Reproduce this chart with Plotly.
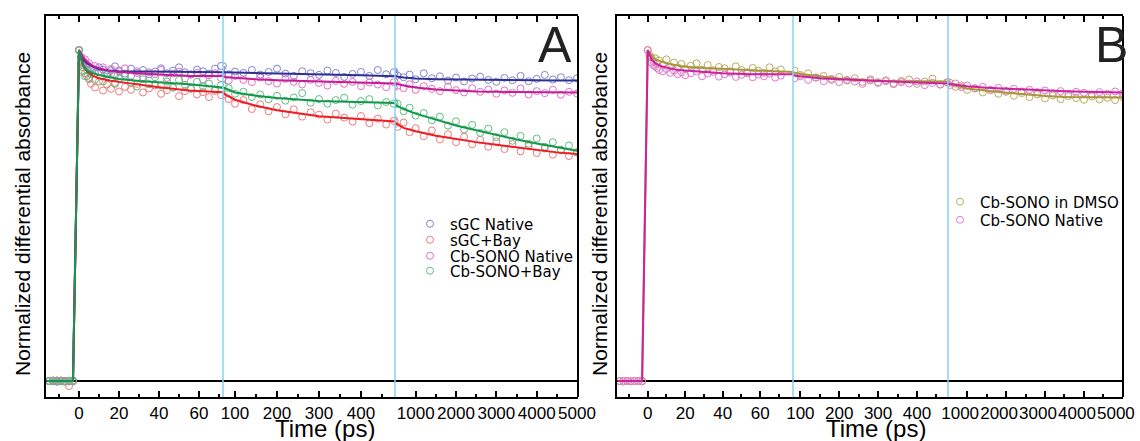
import plotly.graph_objects as go

# ---------------- data ----------------
TIME = [-15, -13, -11, -9, -7, -5, -3,
        0, 1, 2, 3, 4, 5, 6, 8, 10, 12, 14, 16, 18, 20, 23, 26, 29, 32, 35, 38, 41, 44, 47, 50, 53, 56, 59, 62, 65, 68, 71,
        85, 100, 120, 140, 160, 180, 200, 220, 240, 260, 280, 300, 320, 340, 360, 380, 400, 420, 440, 460, 478,
        550, 700, 850, 1000, 1200, 1400, 1600, 1800, 2000, 2200, 2400, 2600, 2800, 3000, 3200, 3400, 3600, 3800,
        4000, 4200, 4400, 4600, 4800, 5000]

SGC_NATIVE = [0.000, 0.002, -0.002, 0.001, 0.000, -0.001, 0.002,
              1.000, 0.978, 0.962, 0.958, 0.951, 0.949, 0.944, 0.930, 0.948, 0.941, 0.926, 0.939, 0.951, 0.936, 0.929,
              0.944, 0.931, 0.940, 0.927, 0.935, 0.945, 0.930, 0.938, 0.948, 0.933, 0.926, 0.941, 0.936, 0.929, 0.944, 0.952,
              0.927, 0.935, 0.931, 0.940, 0.926, 0.934, 0.944, 0.929, 0.922, 0.936, 0.930, 0.925, 0.938, 0.931, 0.919,
              0.928, 0.934, 0.922, 0.940, 0.927, 0.933,
              0.923, 0.918, 0.926, 0.912, 0.930, 0.915, 0.921, 0.908, 0.917, 0.905, 0.914, 0.920, 0.910, 0.904, 0.916,
              0.909, 0.922, 0.906, 0.913, 0.925, 0.911, 0.918, 0.909, 0.915]

SGC_BAY = [0.001, -0.001, 0.002, 0.000, -0.002, -0.015, 0.001,
           1.000, 0.962, 0.948, 0.930, 0.921, 0.912, 0.898, 0.887, 0.905, 0.878, 0.896, 0.883, 0.901, 0.875, 0.889,
           0.880, 0.898, 0.872, 0.884, 0.893, 0.868, 0.879, 0.887, 0.861, 0.876, 0.884, 0.866, 0.873, 0.858, 0.877, 0.864,
           0.852, 0.838, 0.849, 0.822, 0.836, 0.815, 0.828, 0.806, 0.821, 0.799, 0.812, 0.805, 0.790, 0.808, 0.796,
           0.784, 0.801, 0.779, 0.793, 0.775, 0.786,
           0.768, 0.781, 0.752, 0.764, 0.740, 0.757, 0.730, 0.746, 0.722, 0.738, 0.715, 0.729, 0.708, 0.724, 0.701,
           0.716, 0.694, 0.710, 0.689, 0.703, 0.684, 0.697, 0.680, 0.692]

CB_NATIVE_A = [0.000, 0.001, -0.001, 0.002, 0.000, 0.001, -0.001,
               1.000, 0.980, 0.968, 0.972, 0.955, 0.960, 0.941, 0.952, 0.935, 0.948, 0.930, 0.943, 0.925, 0.939, 0.945,
               0.922, 0.936, 0.918, 0.933, 0.927, 0.940, 0.916, 0.929, 0.935, 0.914, 0.926, 0.931, 0.912, 0.924, 0.930, 0.915,
               0.908, 0.922, 0.910, 0.903, 0.917, 0.906, 0.899, 0.913, 0.904, 0.896, 0.910, 0.901, 0.893, 0.907, 0.898,
               0.904, 0.891, 0.902, 0.896, 0.888, 0.903,
               0.892, 0.885, 0.897, 0.880, 0.891, 0.883, 0.876, 0.889, 0.879, 0.872, 0.885, 0.874, 0.881, 0.868, 0.878,
               0.871, 0.884, 0.866, 0.876, 0.870, 0.880, 0.865, 0.874, 0.869]

CB_BAY = [0.000, 0.000, 0.001, -0.001, 0.000, 0.001, 0.000,
          1.000, 0.958, 0.935, 0.921, 0.940, 0.915, 0.928, 0.910, 0.933, 0.905, 0.920, 0.927, 0.898, 0.914, 0.923,
          0.902, 0.890, 0.912, 0.897, 0.918, 0.893, 0.905, 0.887, 0.910, 0.895, 0.883, 0.904, 0.890, 0.899, 0.881, 0.894,
          0.885, 0.868, 0.874, 0.858, 0.866, 0.851, 0.862, 0.847, 0.857, 0.870, 0.841, 0.852, 0.838, 0.849, 0.856,
          0.835, 0.846, 0.852, 0.833, 0.843, 0.838,
          0.838, 0.815, 0.826, 0.802, 0.810, 0.788, 0.799, 0.772, 0.785, 0.760, 0.774, 0.750, 0.763, 0.737, 0.752,
          0.726, 0.741, 0.717, 0.733, 0.708, 0.722, 0.699, 0.712, 0.690]

CB_DMSO = [0.000, 0.001, 0.000, -0.001, 0.001, 0.000, 0.001,
           1.000, 0.985, 0.978, 0.966, 0.975, 0.960, 0.969, 0.957, 0.972, 0.950, 0.962, 0.948, 0.958, 0.944, 0.953,
           0.960, 0.941, 0.955, 0.939, 0.949, 0.945, 0.936, 0.951, 0.940, 0.933, 0.946, 0.938, 0.931, 0.948, 0.935, 0.941,
           0.938, 0.925, 0.930, 0.917, 0.922, 0.910, 0.919, 0.908, 0.915, 0.904, 0.912, 0.903, 0.909, 0.900, 0.907,
           0.911, 0.898, 0.905, 0.914, 0.896, 0.903,
           0.902, 0.889, 0.893, 0.880, 0.885, 0.872, 0.879, 0.868, 0.874, 0.862, 0.870, 0.858, 0.866, 0.854, 0.863,
           0.852, 0.861, 0.855, 0.850, 0.860, 0.851, 0.856, 0.849, 0.858]

CB_NATIVE_B = [0.000, -0.001, 0.001, 0.000, 0.000, 0.001, -0.001,
               1.000, 0.978, 0.962, 0.955, 0.951, 0.946, 0.940, 0.936, 0.943, 0.931, 0.938, 0.927, 0.933, 0.924, 0.930,
               0.936, 0.921, 0.929, 0.934, 0.920, 0.927, 0.932, 0.919, 0.925, 0.930, 0.918, 0.926, 0.921, 0.929, 0.917, 0.923,
               0.915, 0.921, 0.910, 0.917, 0.906, 0.913, 0.903, 0.910, 0.905, 0.898, 0.908, 0.901, 0.906, 0.897, 0.903,
               0.899, 0.905, 0.894, 0.901, 0.896, 0.902,
               0.894, 0.899, 0.888, 0.893, 0.884, 0.889, 0.880, 0.886, 0.877, 0.883, 0.875, 0.880, 0.873, 0.878, 0.870,
               0.876, 0.868, 0.874, 0.871, 0.866, 0.873, 0.868, 0.875, 0.870]

FIT_TIME = [-16, -3, 0, 1, 2, 4, 7, 10, 15, 20, 30, 40, 55, 72, 100, 150, 200, 300, 400, 480,
            700, 1000, 1500, 2000, 2500, 3000, 3500, 4000, 4500, 5000]
FIT_SGC_NATIVE = [0, 0, 1.0, 0.985, 0.972, 0.960, 0.950, 0.943, 0.938, 0.936, 0.935, 0.935, 0.934, 0.933, 0.932,
                  0.931, 0.930, 0.927, 0.924, 0.921, 0.917, 0.914, 0.912, 0.911, 0.910, 0.909, 0.909, 0.909, 0.908, 0.908]
FIT_SGC_BAY = [0, 0, 1.0, 0.975, 0.955, 0.935, 0.922, 0.915, 0.908, 0.904, 0.895, 0.888, 0.878, 0.869, 0.850,
               0.832, 0.818, 0.800, 0.789, 0.780, 0.765, 0.755, 0.741, 0.731, 0.722, 0.714, 0.706, 0.698, 0.691, 0.686]
FIT_CB_NATIVE_A = [0, 0, 1.0, 0.988, 0.978, 0.965, 0.952, 0.945, 0.938, 0.934, 0.929, 0.926, 0.922, 0.919, 0.916,
                   0.912, 0.909, 0.905, 0.902, 0.899, 0.893, 0.887, 0.881, 0.877, 0.875, 0.874, 0.873, 0.872, 0.872, 0.872]
FIT_CB_BAY = [0, 0, 1.0, 0.975, 0.955, 0.938, 0.930, 0.925, 0.918, 0.913, 0.907, 0.903, 0.897, 0.887, 0.872,
              0.862, 0.855, 0.846, 0.840, 0.836, 0.822, 0.808, 0.789, 0.772, 0.758, 0.743, 0.730, 0.718, 0.706, 0.696]
FIT_CB_DMSO = [0, 0, 1.0, 0.990, 0.982, 0.972, 0.965, 0.960, 0.954, 0.950, 0.946, 0.943, 0.939, 0.935, 0.928,
               0.920, 0.914, 0.907, 0.902, 0.899, 0.892, 0.884, 0.877, 0.871, 0.865, 0.861, 0.858, 0.857, 0.857, 0.857]
FIT_CB_NATIVE_B = [0, 0, 1.0, 0.985, 0.972, 0.960, 0.952, 0.947, 0.941, 0.938, 0.933, 0.930, 0.927, 0.924, 0.920,
                   0.915, 0.912, 0.906, 0.902, 0.899, 0.895, 0.891, 0.886, 0.883, 0.880, 0.878, 0.876, 0.874, 0.873, 0.872]

SEG1_TICKS = [0, 20, 40, 60]
SEG1_MINOR = [-10, 10, 30, 50, 70]
SEG2_TICKS = [100, 200, 300, 400]
SEG2_MINOR = [150, 250, 350, 450]
SEG3_TICKS = [1000, 2000, 3000, 4000, 5000]
SEG3_MINOR = [1500, 2500, 3500, 4500]

X_TITLE = "Time (ps)"
Y_TITLE = "Normalized differential absorbance"

# ---------------- layout helpers ----------------
W, H = 1140, 441
FONT = "Liberation Sans, Arial, sans-serif"
LEGEND_FONT = dict(family="DejaVu Sans", size=15, color='black')


def fx(px):
    return px / W


def fy(py):
    return 1 - py / H


TOP, BOTTOM = 16, 397
Y_RANGE = [-0.048, 1.103]


def xaxis_cfg(dom, rng, ticks, minor, anchor, shift=0):
    return dict(domain=[fx(dom[0]), fx(dom[1])], range=rng, anchor=anchor,
                tickmode='array', tickvals=ticks, ticktext=[str(t) for t in ticks],
                tickangle=0, automargin=False, ticklabeloverflow='allow', ticklabelshift=shift,
                ticks='inside', ticklen=6, tickwidth=1.5, tickcolor='black',
                minor=dict(tickmode='array', tickvals=minor, ticks='inside', ticklen=3,
                           tickwidth=1.5, tickcolor='black', showgrid=False),
                showline=True, linecolor='black', linewidth=2, mirror='ticks',
                showgrid=False, zeroline=False, fixedrange=True,
                tickfont=dict(family=FONT, size=17, color='black'))


def yaxis_cfg(anchor):
    return dict(domain=[fy(BOTTOM), fy(TOP)], range=Y_RANGE, anchor=anchor, automargin=False,
                showline=True, linecolor='black', linewidth=2, mirror=False,
                showticklabels=False, ticks='', showgrid=False, fixedrange=True,
                zeroline=True, zerolinecolor='black', zerolinewidth=2)


fig = go.Figure()

# (name, markers, fit, line colour, marker colour, legend id, legend x px, legend row y px)
panels = [
    dict(axes=['x', 'x2', 'x3'], y='y',
         series=[("sGC Native", SGC_NATIVE, FIT_SGC_NATIVE, '#2e3192', '#7f84d6', 'legend', 410, 224),
                 ("sGC+Bay", SGC_BAY, FIT_SGC_BAY, '#ee1c24', '#f27a7a', 'legend2', 410, 240),
                 ("Cb-SONO Native", CB_NATIVE_A, FIT_CB_NATIVE_A, '#c21d96', '#e26fc6', 'legend3', 410, 256),
                 ("Cb-SONO+Bay", CB_BAY, FIT_CB_BAY, '#11984a', '#5fbf7e', 'legend4', 410, 271)]),
    dict(axes=['x4', 'x5', 'x6'], y='y2',
         series=[("Cb-SONO in DMSO", CB_DMSO, FIT_CB_DMSO, '#a8973a', '#b9ab5e', 'legend5', 940, 202),
                 ("Cb-SONO Native", CB_NATIVE_B, FIT_CB_NATIVE_B, '#cc22a2', '#e476cf', 'legend6', 940, 220)]),
]

legends = {}
for p in panels:
    for name, vals, fit, lc, mc, lg, lx, ly in p['series']:
        legends[lg] = dict(x=fx(lx), y=fy(ly), xanchor='left', yanchor='middle', bgcolor='rgba(0,0,0,0)',
                           font=LEGEND_FONT, borderwidth=0)
        for i, xa in enumerate(p['axes']):
            fig.add_trace(go.Scatter(x=TIME, y=vals, mode='markers', name=name, xaxis=xa, yaxis=p['y'],
                                     marker=dict(symbol='circle-open', size=7, color=mc, line=dict(width=1, color=mc)),
                                     showlegend=(i == 0), legend=lg, legendgroup=lg,
                                     hoverinfo='skip'))
    for name, vals, fit, lc, mc, lg, lx, ly in p['series']:
        for xa in p['axes']:
            fig.add_trace(go.Scatter(x=FIT_TIME, y=fit, mode='lines', name=name, xaxis=xa, yaxis=p['y'],
                                     line=dict(color=lc, width=2), showlegend=False, hoverinfo='skip'))

fig.update_layout(
    width=W, height=H, autosize=False,
    margin=dict(l=0, r=0, t=0, b=0, autoexpand=False),
    paper_bgcolor='white', plot_bgcolor='rgba(0,0,0,0)',
    font=dict(family=FONT, color='black'),
    xaxis=xaxis_cfg((46, 223), [-16.5, 72], SEG1_TICKS, SEG1_MINOR, 'y'),
    xaxis2=xaxis_cfg((223, 395), [71.4, 481], SEG2_TICKS, SEG2_MINOR, 'y'),
    xaxis3=xaxis_cfg((395, 578), [487, 5024], SEG3_TICKS, SEG3_MINOR, 'y'),
    xaxis4=xaxis_cfg((617, 793), [-16.4, 77.5], SEG1_TICKS, SEG1_MINOR, 'y2'),
    xaxis5=xaxis_cfg((793, 948), [81, 480], SEG2_TICKS, SEG2_MINOR, 'y2'),
    xaxis6=xaxis_cfg((948, 1123), [508, 5003], SEG3_TICKS, SEG3_MINOR, 'y2', shift=-7),
    yaxis=yaxis_cfg('x'),
    yaxis2=yaxis_cfg('x4'),
    showlegend=True,
    **legends,
)

shapes = []
BLUE = '#86d2f2'
for seg in ['x', 'x2', 'x4', 'x5']:
    shapes.append(dict(type='line', xref=seg + ' domain', x0=1, x1=1, yref='y domain' if seg in ('x', 'x2') else 'y2 domain',
                       y0=0, y1=1, line=dict(color=BLUE, width=1.5), layer='above'))
for seg, yr in [('x3', 'y domain'), ('x6', 'y2 domain')]:
    shapes.append(dict(type='line', xref=seg + ' domain', x0=1, x1=1, yref=yr, y0=0, y1=1,
                       line=dict(color='black', width=2), layer='above'))
fig.update_layout(shapes=shapes)


def ann(text, px, py, size, angle=0, color='black'):
    return dict(text=text, x=fx(px), y=fy(py), xref='paper', yref='paper', showarrow=False,
                xanchor='center', yanchor='middle', textangle=angle,
                font=dict(family=FONT, size=size, color=color))


annotations = [
    ann(X_TITLE, 325, 428, 24),
    ann(X_TITLE, 876, 428, 24),
    ann(Y_TITLE, 22, 214, 21, angle=-90),
    ann(Y_TITLE, 599, 214, 21, angle=-90),
    ann("A", 555, 45, 50, color='#222222'),
    ann("B", 1111, 45, 50, color='#222222'),
]
fig.update_layout(annotations=annotations)

fig.write_html("out.html", config={'displayModeBar': False},
               post_script="document.body.style.margin='0px';")
